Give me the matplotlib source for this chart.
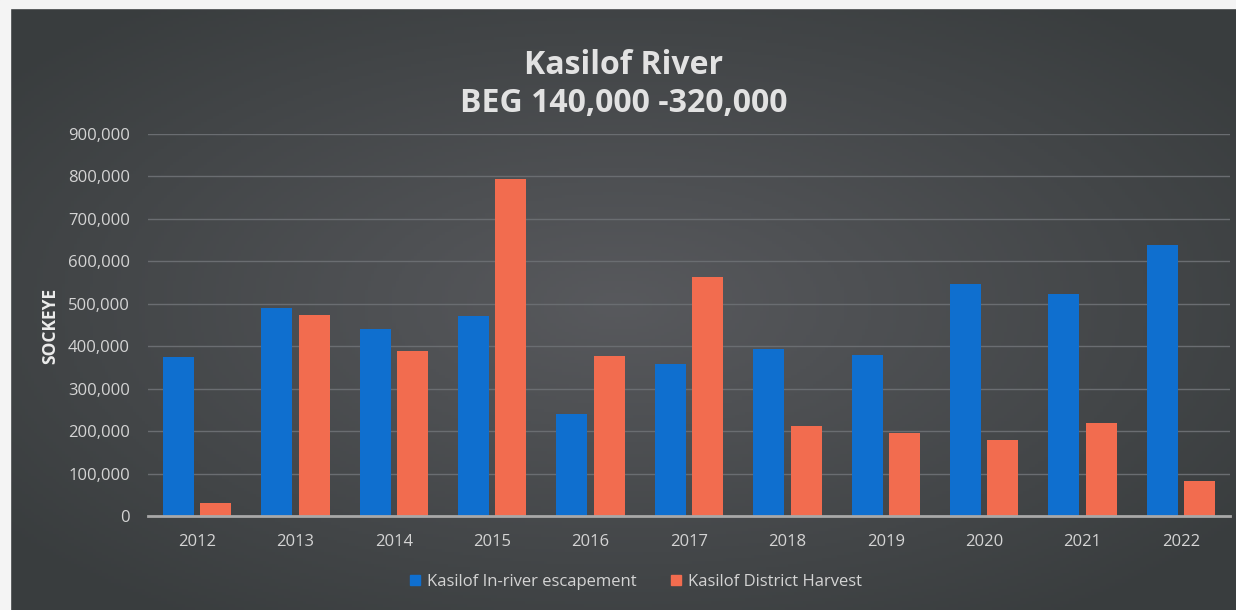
import numpy as np
import matplotlib
matplotlib.use("Agg")
import matplotlib.pyplot as plt
from matplotlib.patches import Rectangle, Patch
from matplotlib.ticker import FuncFormatter

years = ['2012', '2013', '2014', '2015', '2016', '2017',
         '2018', '2019', '2020', '2021', '2022']
escapement = [374000, 489000, 440000, 472000, 240000, 359000,
              394000, 380000, 547000, 522000, 638000]
harvest = [31000, 474000, 388000, 795000, 378000, 562000,
           212000, 196000, 180000, 220000, 83000]

series_names = ['Kasilof In-river escapement', 'Kasilof District Harvest']
title_lines = ['Kasilof River', 'BEG 140,000 -320,000']

blue = '#0f6fcf'
orange = '#f26c4f'
text_col = '#d4d4d4'

plt.rcParams['font.family'] = ['Open Sans', 'DejaVu Sans']

fig = plt.figure(figsize=(12.36, 6.10), dpi=100)
fig.patch.set_facecolor('#3a3d3e')

# dark slate background, lighter toward the middle
bg = fig.add_axes([0, 0, 1, 1], zorder=-10)
yy, xx = np.mgrid[0:1:200j, 0:1:400j]
r = np.sqrt((xx - 0.5) ** 2 / 0.25 + (yy - 0.5) ** 2 / 0.25)
t = np.clip(1 - r / 1.25, 0, 1)[..., None]
edge = np.array([0.225, 0.24, 0.245])
mid = np.array([0.345, 0.35, 0.365])
bg.imshow(edge + (mid - edge) * t, aspect='auto', extent=[0, 1, 0, 1])
bg.set_axis_off()

# scanner's white margin on top and left
fig.patches.append(Rectangle((0, 1 - 8 / 610), 1, 8 / 610, transform=fig.transFigure,
                             color='#f4f4f4', zorder=5))
fig.patches.append(Rectangle((0, 0), 10 / 1236, 1, transform=fig.transFigure,
                             color='#f4f4f4', zorder=5))

ax = fig.add_axes([148 / 1236, 1 - 516 / 610, 1082 / 1236, 382 / 610])
ax.set_facecolor('none')

x = np.arange(len(years))
w = 0.315
off = 0.19
ax.bar(x - off, escapement, w, color=blue, zorder=3)
ax.bar(x + off, harvest, w, color=orange, zorder=3)

ax.set_xlim(-0.5, len(years) - 0.5)
ax.set_ylim(0, 900000)
ax.set_yticks(np.arange(0, 900001, 100000))
ax.yaxis.set_major_formatter(FuncFormatter(lambda v, p: f'{int(v):,}'))
ax.set_xticks(x)
ax.set_xticklabels(years)
ax.tick_params(axis='both', length=0, colors=text_col, labelsize=12)
ax.tick_params(axis='y', pad=13)
ax.tick_params(axis='x', pad=13)
ax.grid(axis='y', color='#6a6d71', linewidth=1, zorder=0)
for s in ['top', 'right', 'left']:
    ax.spines[s].set_visible(False)
ax.spines['bottom'].set_color('#a8a8a8')
ax.spines['bottom'].set_linewidth(2)
ax.spines['bottom'].set_zorder(4)

fig.text(50 / 1236, 1 - 326 / 610, 'SOCKEYE', rotation=90, ha='center', va='center',
         color='#ececec', fontsize=12.5, fontweight='bold')

fig.text(624 / 1236, 1 - 65 / 610, title_lines[0], ha='center', va='center',
         color='#e2e2e2', fontsize=23, fontweight='bold')
fig.text(624 / 1236, 1 - 104 / 610, title_lines[1], ha='center', va='center',
         color='#e2e2e2', fontsize=23, fontweight='bold')

handles = [Patch(color=blue), Patch(color=orange)]
fig.legend(handles, series_names, loc='center', bbox_to_anchor=(636 / 1236, 1 - 582 / 610),
           ncol=2, frameon=False, fontsize=12, labelcolor=text_col,
           handlelength=0.6, handleheight=0.6, handletextpad=0.4, columnspacing=2.1)

fig.savefig('out.png', dpi=100, facecolor=fig.get_facecolor())
